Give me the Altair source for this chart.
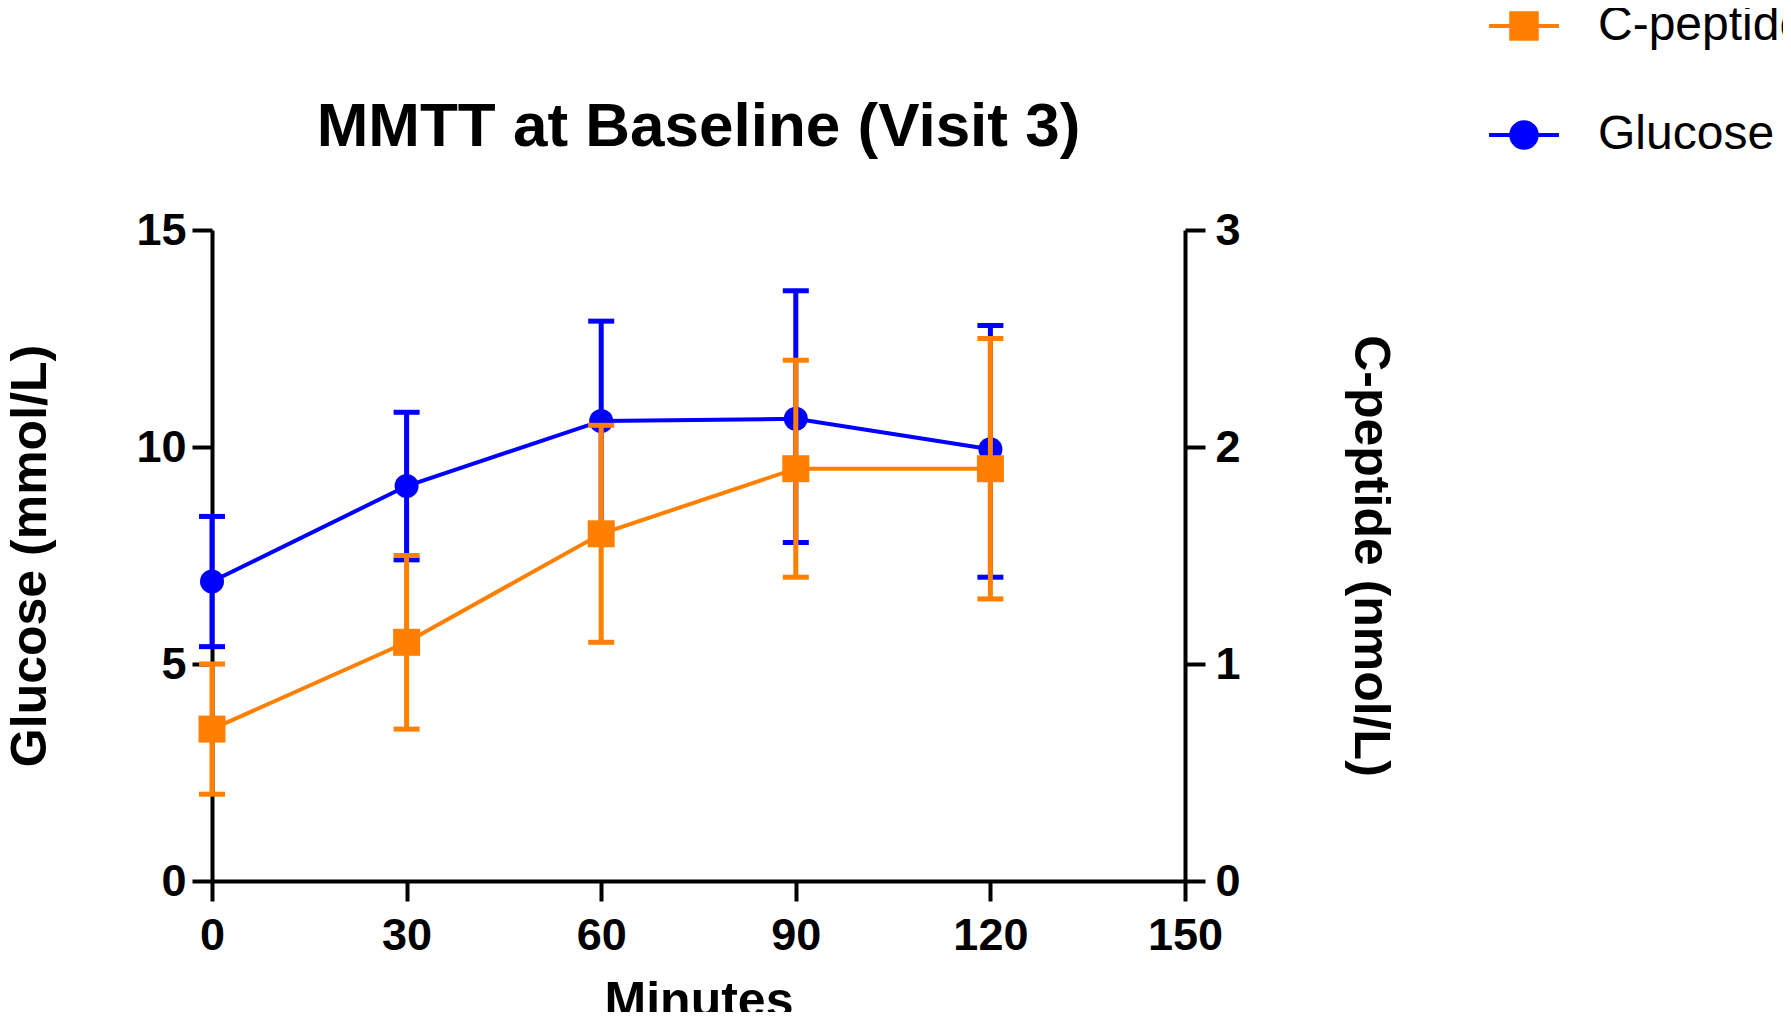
import altair as alt
import pandas as pd

minutes = [0, 30, 60, 90, 120]
glucose_mean = [6.9, 9.1, 10.6, 10.65, 9.95]
glucose_lo = [5.4, 7.4, 8.2, 7.8, 7.0]
glucose_hi = [8.4, 10.8, 12.9, 13.6, 12.8]
cpep_mean = [0.70, 1.10, 1.60, 1.90, 1.90]
cpep_lo = [0.40, 0.70, 1.10, 1.40, 1.30]
cpep_hi = [1.00, 1.50, 2.10, 2.40, 2.50]

series_names = ["C-peptide", "Glucose"]
series_colors = ["#FF7F00", "#0000FF"]
legend_shapes = [
    "M-2.33,0H2.33M-0.85,-0.85H0.85V0.85H-0.85Z",
    "M-2.33,0H2.33M0.85,0A0.85,0.85 0 1,1 -0.85,0A0.85,0.85 0 1,1 0.85,0Z",
]
x_ticks = [0, 30, 60, 90, 120, 150]
g_ticks = [0, 5, 10, 15]
c_ticks = [0, 1, 2, 3]

FONT = "Liberation Sans"
BLUE = series_colors[1]
ORANGE = series_colors[0]

gl = pd.DataFrame({"minute": minutes, "mean": glucose_mean, "lo": glucose_lo, "hi": glucose_hi})
cp = pd.DataFrame({"minute": minutes, "mean": cpep_mean, "lo": cpep_lo, "hi": cpep_hi})

x_enc = alt.X("minute:Q", scale=alt.Scale(domain=[0, 150], nice=False),
              axis=alt.Axis(values=x_ticks, title="Minutes", labelFlush=False,
                            labelPadding=12, titlePadding=18))

g_scale = alt.Scale(domain=[0, 15], nice=False)
g_axis = alt.Axis(values=g_ticks, title="Glucose (mmol/L)", orient="left",
                  labelPadding=6, titlePadding=80)
c_scale = alt.Scale(domain=[0, 3], nice=False)
c_axis = alt.Axis(values=c_ticks, title="C-peptide (nmol/L)", orient="right",
                  labelPadding=10, titlePadding=104)


def series_layer(df, scale, axis, color, shape, msize):
    base = alt.Chart(df)
    line = base.mark_line(color=color, strokeWidth=4).encode(
        x=x_enc, y=alt.Y("mean:Q", scale=scale, axis=axis))
    err = base.mark_rule(color=color, strokeWidth=5).encode(
        x=x_enc, y=alt.Y("lo:Q", scale=scale, axis=axis), y2="hi:Q")
    cap_lo = base.mark_point(shape="stroke", size=676, strokeWidth=5, color=color,
                             filled=False, opacity=1).encode(
        x=x_enc, y=alt.Y("lo:Q", scale=scale, axis=axis))
    cap_hi = base.mark_point(shape="stroke", size=676, strokeWidth=5, color=color,
                             filled=False, opacity=1).encode(
        x=x_enc, y=alt.Y("hi:Q", scale=scale, axis=axis))
    pts = base.mark_point(shape=shape, size=msize, color=color, filled=True,
                          opacity=1).encode(
        x=x_enc, y=alt.Y("mean:Q", scale=scale, axis=axis))
    return alt.layer(line, err, cap_lo, cap_hi, pts)


glu_layer = series_layer(gl, g_scale, g_axis, BLUE, "circle", 576)
cp_layer = series_layer(cp, c_scale, c_axis, ORANGE, "square", 729)

leg = alt.Legend(title=None, orient="none", legendX=1288, legendY=-228,
                 labelFont=FONT, labelFontSize=48, labelFontWeight="normal",
                 labelColor="black", labelLimit=0, labelOffset=50,
                 rowPadding=61, padding=0, symbolSize=900, symbolStrokeWidth=4)
leg_df = pd.DataFrame({"series": pd.Series([], dtype="object")})
legend_layer = alt.Chart(leg_df).mark_point(filled=True, size=900, opacity=1).encode(
    fill=alt.Fill("series:N", scale=alt.Scale(domain=series_names, range=series_colors), legend=leg),
    stroke=alt.Stroke("series:N", scale=alt.Scale(domain=series_names, range=series_colors), legend=leg),
    shape=alt.Shape("series:N", scale=alt.Scale(domain=series_names, range=legend_shapes), legend=leg),
)

chart = alt.layer(glu_layer, cp_layer, legend_layer).resolve_scale(
    y="independent"
).properties(
    width=973, height=651,
    autosize="none",
    padding={"left": 204, "top": 222, "right": 598, "bottom": 131},
    title=alt.TitleParams("MMTT at Baseline (Visit 3)", font=FONT, fontSize=62,
                          fontWeight="bold", color="black", anchor="middle",
                          offset=0, dy=157),
).configure_view(stroke=None).configure_axis(
    grid=False, domainColor="black", domainWidth=4, tickColor="black", tickWidth=4,
    tickSize=20, labelFont=FONT, labelFontSize=45, labelFontWeight="bold",
    labelColor="black", titleFont=FONT, titleFontSize=50, titleFontWeight="bold",
    titleColor="black",
)

chart.save("out.html", embed_options={"renderer": "svg", "actions": False})
